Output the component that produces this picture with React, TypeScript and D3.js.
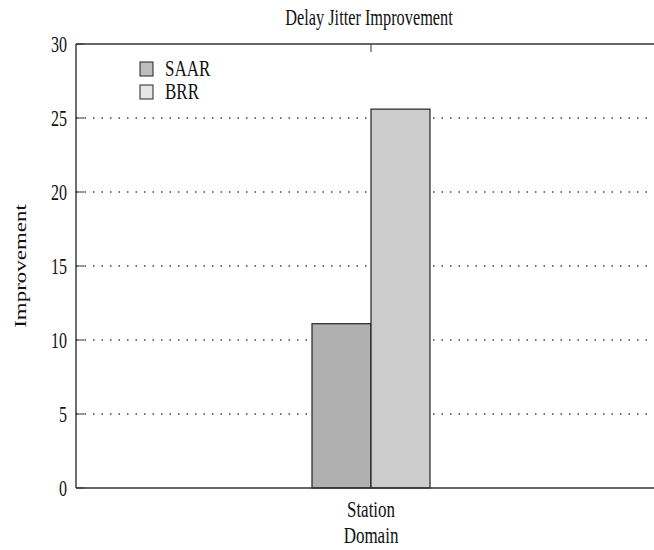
import React, { useEffect, useRef } from 'react';
import * as d3 from 'd3';

const categories: string[] = ['Station'];
const seriesNames: string[] = ['SAAR', 'BRR'];
const saarValues: number[] = [11.1];
const brrValues: number[] = [25.6];
const yTicks: number[] = [0, 5, 10, 15, 20, 25, 30];

const barColors = ['#b0b0b0', '#cccccc'];
const legendColors = ['#bdbdbd', '#e6e6e6'];

const App: React.FC = () => {
  const ref = useRef<SVGSVGElement>(null);

  useEffect(() => {
    const svg = d3.select(ref.current);
    svg.selectAll('*').remove();

    const left = 76;
    const right = 666;
    const top = 44;
    const bottom = 488;
    const font = '"Liberation Serif", "Times New Roman", serif';

    // the source picture is stretched vertically, so text is too
    const addText = (
      x: number,
      y: number,
      str: string,
      size: number,
      anchor: string,
      extra: string
    ) =>
      svg
        .append('text')
        .attr('transform', `translate(${x},${y}) ${extra}`)
        .attr('text-anchor', anchor)
        .attr('font-family', font)
        .attr('font-size', size)
        .attr('fill', '#111')
        .text(str);

    const x = d3.scaleBand<string>().domain(categories).range([left, right]).paddingInner(0).paddingOuter(2);
    const xs = d3.scaleBand<string>().domain(seriesNames).range([0, x.bandwidth()]);
    const y = d3.scaleLinear().domain([0, 30]).range([bottom, top]);

    // grid lines
    svg.append('g')
      .selectAll('line')
      .data(yTicks.filter((t) => t > 0 && t < 30))
      .join('line')
      .attr('x1', left)
      .attr('x2', right)
      .attr('y1', (d) => y(d))
      .attr('y2', (d) => y(d))
      .attr('stroke', '#444')
      .attr('stroke-width', 1.3)
      .attr('stroke-dasharray', '1.5,7');

    // short tick marks on the left
    svg.append('g')
      .selectAll('line')
      .data(yTicks)
      .join('line')
      .attr('x1', left)
      .attr('x2', left + 8)
      .attr('y1', (d) => y(d))
      .attr('y2', (d) => y(d))
      .attr('stroke', '#333')
      .attr('stroke-width', 1);

    // bars
    const values = [saarValues, brrValues];
    const g = svg.append('g');
    seriesNames.forEach((s, i) => {
      g.selectAll(`rect.s${i}`)
        .data(categories)
        .join('rect')
        .attr('class', `s${i}`)
        .attr('x', (c) => (x(c) ?? 0) + (xs(s) ?? 0))
        .attr('width', xs.bandwidth())
        .attr('y', (_c, j) => y(values[i][j]))
        .attr('height', (_c, j) => bottom - y(values[i][j]))
        .attr('fill', barColors[i])
        .attr('stroke', '#222')
        .attr('stroke-width', 1.2);
    });

    // frame: left, top, bottom
    svg.append('line').attr('x1', left).attr('x2', left).attr('y1', top).attr('y2', bottom)
      .attr('stroke', '#222').attr('stroke-width', 1.3);
    svg.append('line').attr('x1', left).attr('x2', right).attr('y1', top).attr('y2', top)
      .attr('stroke', '#333').attr('stroke-width', 1.6);
    svg.append('line').attr('x1', left).attr('x2', right).attr('y1', bottom).attr('y2', bottom)
      .attr('stroke', '#333').attr('stroke-width', 1.6);

    // category tick at top + label
    categories.forEach((c) => {
      const cx = (x(c) ?? 0) + x.bandwidth() / 2;
      svg.append('line').attr('x1', cx).attr('x2', cx).attr('y1', top).attr('y2', top + 8)
        .attr('stroke', '#333').attr('stroke-width', 1);
      addText(cx, 517, c, 17, 'middle', 'scale(1,1.35)');
    });

    // y tick labels
    yTicks.forEach((t) => addText(67, y(t) + 8, String(t), 16, 'end', 'scale(1,1.4)'));

    // titles
    addText(369, 25, 'Delay Jitter Improvement', 16.3, 'middle', 'scale(1,1.45)');
    addText(371, 543, 'Domain', 17, 'middle', 'scale(1,1.35)');
    addText(26, 266, 'Improvement', 17, 'middle', 'rotate(-90) scale(1.35,1)');

    // legend
    seriesNames.forEach((s, i) => {
      const ly = 62 + i * 23;
      svg.append('rect').attr('x', 140).attr('y', ly).attr('width', 13).attr('height', 14)
        .attr('fill', legendColors[i]).attr('stroke', '#222').attr('stroke-width', 1);
      addText(165, ly + 14, s, 17, 'start', 'scale(1,1.3)');
    });
  }, []);

  return (
    <svg
      ref={ref}
      width={654}
      height={550}
      style={{ position: 'absolute', left: 0, top: 0, background: '#fff' }}
    />
  );
};

export default App;
